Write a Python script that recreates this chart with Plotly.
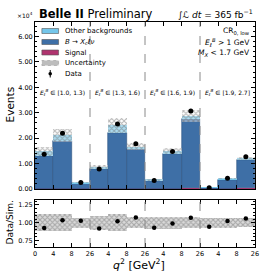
import plotly.graph_objects as go

# ---- data (units of 10^4 events) ----
tick_labels = ['0', '4', '8', '26', '4', '8', '26', '4', '8', '26', '4', '8', '26']
panel_labels = ['[1.0, 1.3)', '[1.3, 1.6)', '[1.6, 1.9)', '[1.9, 2.7]']
signal = [0.005, 0.010, 0.003, 0.005, 0.010, 0.010, 0.004, 0.010, 0.030, 0.003, 0.010, 0.030]
xclnu = [1.305, 1.880, 0.232, 0.765, 2.210, 1.560, 0.326, 1.370, 2.710, 0.047, 0.360, 1.130]
other = [0.170, 0.230, 0.015, 0.090, 0.290, 0.090, 0.025, 0.115, 0.130, 0.003, 0.040, 0.040]
rel_unc = [0.12, 0.12, 0.07, 0.10, 0.12, 0.08, 0.085, 0.085, 0.08, 0.07, 0.07, 0.06]
data = [1.37, 2.19, 0.257, 0.79, 2.56, 1.78, 0.33, 1.48, 3.07, 0.050, 0.42, 1.27]

n = len(data)
xc = [i + 0.5 for i in range(n)]
total = [s + b + o for s, b, o in zip(signal, xclnu, other)]
unc = [t * r for t, r in zip(total, rel_unc)]
ratio = [d / t for d, t in zip(data, total)]

C_OTHER = '#74c6ea'
C_XC = '#3e6fa6'
C_SIG = '#b0346f'
FONT = 'DejaVu Sans'
HATCH = dict(shape='x', fgcolor='#6e6e6e', size=3.5, solidity=0.5, fillmode='overlay')

fig = go.Figure()
base_xc = signal
base_other = [s + b for s, b in zip(signal, xclnu)]

fig.add_trace(go.Bar(x=xc, y=signal, base=[0] * n, width=1, marker=dict(color=C_SIG, line=dict(width=0)),
                     xaxis='x', yaxis='y', showlegend=False))
fig.add_trace(go.Bar(x=xc, y=xclnu, base=base_xc, width=1,
                     marker=dict(color=C_XC, line=dict(width=0.6, color='#2b5280')),
                     xaxis='x', yaxis='y', showlegend=False))
fig.add_trace(go.Bar(x=xc, y=other, base=base_other, width=1, marker=dict(color=C_OTHER, line=dict(width=0)),
                     xaxis='x', yaxis='y', showlegend=False))
fig.add_trace(go.Bar(x=xc, y=[2 * u for u in unc], base=[t - u for t, u in zip(total, unc)], width=1,
                     marker=dict(color='rgba(255,255,255,0.4)', line=dict(width=0), pattern=HATCH),
                     xaxis='x', yaxis='y', showlegend=False))
fig.add_trace(go.Scatter(x=xc, y=data, mode='markers', marker=dict(color='black', size=5),
                         xaxis='x', yaxis='y', showlegend=False))

# ratio panel
fig.add_trace(go.Bar(x=xc, y=[2 * r for r in rel_unc], base=[1 - r for r in rel_unc], width=1,
                     marker=dict(color='rgba(190,190,190,0.55)', line=dict(width=0), pattern=HATCH),
                     xaxis='x2', yaxis='y2', showlegend=False))
fig.add_trace(go.Scatter(x=xc, y=ratio, mode='markers', marker=dict(color='black', size=4.5),
                         xaxis='x2', yaxis='y2', showlegend=False))

L, R, T, B = 35, 259, 22, 247
W, H = 269, 273


def fx(px):
    return (px - L) / (R - L)


def fy(py):
    return (B - py) / (B - T)


main_bottom = fy(189)
ratio_top = fy(200)

axis_common = dict(showline=True, linecolor='black', linewidth=1, mirror='ticks', ticks='inside',
                   tickcolor='black', showgrid=False, zeroline=False,
                   tickfont=dict(family=FONT, size=6.5, color='black'))

fig.update_layout(
    width=W, height=H, margin=dict(l=L, r=W - R, t=T, b=H - B),
    plot_bgcolor='white', paper_bgcolor='white', barmode='overlay', bargap=0,
    font=dict(family=FONT, color='black'),
    xaxis=dict(domain=[0, 1], anchor='y', range=[0, n], matches='x2', tickvals=list(range(n + 1)),
               showticklabels=False, ticklen=4, **axis_common),
    yaxis=dict(domain=[main_bottom, 1], anchor='x', range=[0, 6.57], tickvals=[0, 1, 2, 3, 4, 5, 6],
               tickformat='.2f', ticklen=4,
               minor=dict(ticks='inside', ticklen=2, dtick=0.2, tickcolor='black'), **axis_common),
    xaxis2=dict(domain=[0, 1], anchor='y2', range=[0, n], tickvals=list(range(n + 1)), ticktext=tick_labels,
                ticklen=4, **axis_common),
    yaxis2=dict(domain=[0, ratio_top], anchor='x2', range=[0.659, 1.319], tickvals=[0.75, 1.0, 1.25],
                tickformat='.2f', ticklen=4,
                minor=dict(ticks='inside', ticklen=2, dtick=0.05, tickcolor='black'), **axis_common),
)

shapes = []
for xb in [3, 6, 9]:
    for xr, yr in [('x', 'y domain'), ('x2', 'y2 domain')]:
        shapes.append(dict(type='line', xref=xr, yref=yr, x0=xb, x1=xb, y0=0, y1=1,
                           line=dict(color='#8a8a8a', width=1, dash='dash')))

# legend (manual)
leg_items = [('Other backgrounds', C_OTHER, 31), ('<i>B</i> → <i>X<sub>c</sub>ℓν</i>', C_XC, 42),
             ('Signal', C_SIG, 52.5)]
ann = []
for label, col, yc in leg_items:
    shapes.append(dict(type='rect', xref='paper', yref='paper', x0=fx(42), x1=fx(59), y0=fy(yc + 2.5),
                       y1=fy(yc - 2.5), fillcolor=col, line=dict(width=0.6, color='#555')))
    ann.append(dict(text=label, x=fx(63), y=fy(yc), xanchor='left', yanchor='middle'))
# uncertainty patch
shapes.append(dict(type='rect', xref='paper', yref='paper', x0=fx(42), x1=fx(59), y0=fy(65.5), y1=fy(60.5),
                   fillcolor='#bdbdbd', line=dict(width=0.6, color='#9a9a9a', dash='dot')))
ann.append(dict(text='Uncertainty', x=fx(63), y=fy(63), xanchor='left', yanchor='middle'))
# data marker
shapes.append(dict(type='line', xref='paper', yref='paper', x0=fx(50.5), x1=fx(50.5), y0=fy(77.5), y1=fy(70),
                   line=dict(color='black', width=1)))
shapes.append(dict(type='circle', xref='paper', yref='paper', x0=fx(48.7), x1=fx(52.3), y0=fy(75.6), y1=fy(72),
                   fillcolor='black', line=dict(width=0)))
ann.append(dict(text='Data', x=fx(63), y=fy(74), xanchor='left', yanchor='middle'))
for a in ann:
    a.update(xref='paper', yref='paper', showarrow=False, font=dict(family=FONT, size=7, color='black'))

# top-right selection text
for txt, yc in [('CR<sub>0, low</sub>', 31), ('<i>E<sub>ℓ</sub><sup>B</sup></i> > 1 GeV', 42),
                ('<i>M<sub>X</sub></i> < 1.7 GeV', 52.5)]:
    ann.append(dict(text=txt, x=fx(256), y=fy(yc), xref='paper', yref='paper', xanchor='right',
                    yanchor='middle', showarrow=False, font=dict(family=FONT, size=7.5, color='black')))

# panel labels
for i, pl in enumerate(panel_labels):
    ann.append(dict(text='<i>E<sub>ℓ</sub><sup>B</sup></i> ∈ ' + pl, x=3 * i + 1.5, y=fy(92), xref='x',
                    yref='paper', xanchor='center', yanchor='middle', showarrow=False,
                    font=dict(family=FONT, size=6, color='black')))

# titles
ann += [
    dict(text='<b>Belle II</b> Preliminary', x=fx(37), y=fy(14.5), xanchor='left', yanchor='middle',
         font=dict(family=FONT, size=11.5, color='black')),
    dict(text='∫<i>ℒ dt</i> = 365 fb<sup>−1</sup>', x=fx(259), y=fy(13.5), xanchor='right', yanchor='middle',
         font=dict(family=FONT, size=9, color='black')),
    dict(text='×10<sup>4</sup>', x=fx(15), y=fy(15), xanchor='left', yanchor='middle',
         font=dict(family=FONT, size=6, color='black')),
    dict(text='Events', x=fx(10), y=fy(104), xanchor='center', yanchor='middle', textangle=-90,
         font=dict(family=FONT, size=10.5, color='black')),
    dict(text='Data/Sim.', x=fx(10), y=fy(222), xanchor='center', yanchor='middle', textangle=-90,
         font=dict(family=FONT, size=9, color='black')),
    dict(text='<i>q</i><sup>2</sup> [GeV<sup>2</sup>]', x=fx(141), y=fy(264), xanchor='center', yanchor='middle',
         font=dict(family=FONT, size=11, color='black')),
]
for a in ann:
    a.setdefault('xref', 'paper')
    a.setdefault('yref', 'paper')
    a.setdefault('showarrow', False)

fig.update_layout(shapes=shapes, annotations=ann)
fig.write_html('out.html', config={'displayModeBar': False},
               post_script="document.body.style.margin='0px';")
